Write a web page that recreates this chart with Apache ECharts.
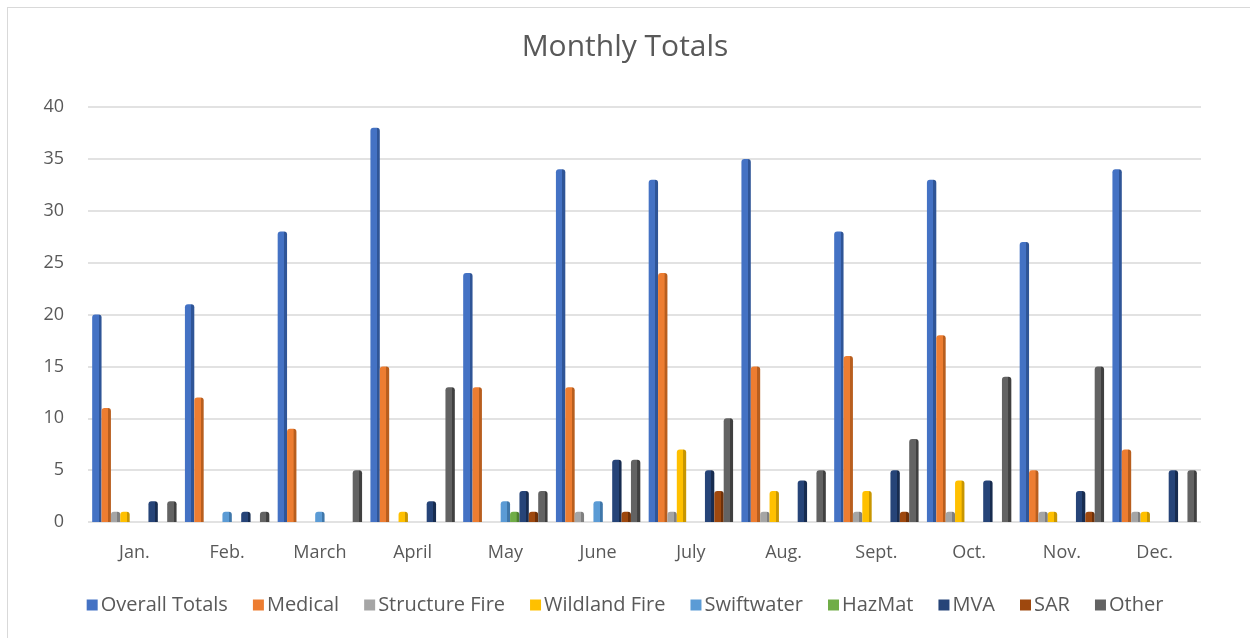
<!DOCTYPE html>
<html>
<head>
<meta charset="utf-8">
<script src="https://cdn.jsdelivr.net/npm/echarts@6/dist/echarts.min.js"></script>
<style>
  html, body { margin: 0; padding: 0; background: #fff; }
  #frame {
    position: absolute; left: 7px; top: 7px; width: 1260px; height: 650px;
    border: 1px solid #d9d9d9; box-sizing: border-box;
  }
  #chart { position: absolute; left: 0; top: 0; width: 1250px; height: 638px; }
</style>
</head>
<body>
<div id="frame"></div>
<div id="chart"></div>
<script>
const months = ["Jan.", "Feb.", "March", "April", "May", "June", "July", "Aug.", "Sept.", "Oct.", "Nov.", "Dec."];
const overallTotals = [20, 21, 28, 38, 24, 34, 33, 35, 28, 33, 27, 34];
const medical       = [11, 12, 9, 15, 13, 13, 24, 15, 16, 18, 5, 7];
const structureFire = [1, 0, 0, 0, 0, 1, 1, 1, 1, 1, 1, 1];
const wildlandFire  = [1, 0, 0, 1, 0, 0, 7, 3, 3, 4, 1, 1];
const swiftwater    = [0, 1, 1, 0, 2, 2, 0, 0, 0, 0, 0, 0];
const hazMat        = [0, 0, 0, 0, 1, 0, 0, 0, 0, 0, 0, 0];
const mva           = [2, 1, 0, 2, 3, 6, 5, 4, 5, 4, 3, 5];
const sar           = [0, 0, 0, 0, 1, 1, 3, 0, 1, 0, 1, 0];
const other         = [2, 1, 5, 13, 3, 6, 10, 5, 8, 14, 15, 5];

const seriesDefs = [
  { name: "Overall Totals", data: overallTotals, color: "#4472C4", side: "#2F5597" },
  { name: "Medical", data: medical, color: "#ED7D31", side: "#B85E1E" },
  { name: "Structure Fire", data: structureFire, color: "#A5A5A5", side: "#7F7F7F" },
  { name: "Wildland Fire", data: wildlandFire, color: "#FFC000", side: "#C89600" },
  { name: "Swiftwater", data: swiftwater, color: "#5B9BD5", side: "#3F77AA" },
  { name: "HazMat", data: hazMat, color: "#70AD47", side: "#4E8030" },
  { name: "MVA", data: mva, color: "#264478", side: "#172C50" },
  { name: "SAR", data: sar, color: "#9E480E", side: "#6E3008" },
  { name: "Other", data: other, color: "#636363", side: "#404040" }
];

const chart = echarts.init(document.getElementById("chart"));

// front face + darker side face, a rough take on the 3D columns
const series = seriesDefs.map((s) => ({
  name: s.name,
  type: "bar",
  data: s.data,
  barGap: "0%",
  barCategoryGap: "9%",
  itemStyle: {
    color: new echarts.graphic.LinearGradient(0, 0, 1, 0, [
      { offset: 0, color: s.color },
      { offset: 0.68, color: s.color },
      { offset: 0.7, color: s.side },
      { offset: 1, color: s.side }
    ]),
    borderRadius: [3, 3, 0, 0]
  }
}));

const option = {
  animation: false,
  title: {
    text: "Monthly Totals",
    left: "center",
    top: 27,
    textStyle: { color: "#595959", fontSize: 30, fontWeight: "normal", fontFamily: "Open Sans" }
  },
  legend: {
    bottom: 18,
    left: "center",
    itemWidth: 11,
    itemHeight: 11,
    itemGap: 25,
    icon: "rect",
    data: seriesDefs.map((s) => ({ name: s.name, itemStyle: { color: s.color } })),
    textStyle: { color: "#595959", fontSize: 20, fontFamily: "Open Sans", padding: [0, 0, 0, -2] }
  },
  grid: { left: 88, right: 49, top: 107, bottom: 116 },
  xAxis: {
    type: "category",
    data: months,
    axisLine: { show: false },
    axisTick: { show: false },
    axisLabel: { color: "#595959", fontSize: 18, fontFamily: "Open Sans", margin: 22 }
  },
  yAxis: {
    type: "value",
    min: 0,
    max: 40,
    interval: 5,
    axisLabel: { color: "#595959", fontSize: 18, fontFamily: "Open Sans", margin: 24 },
    splitLine: { lineStyle: { color: "#d9d9d9", width: 1.5 } }
  },
  series: series
};

chart.setOption(option);
</script>
</body>
</html>
